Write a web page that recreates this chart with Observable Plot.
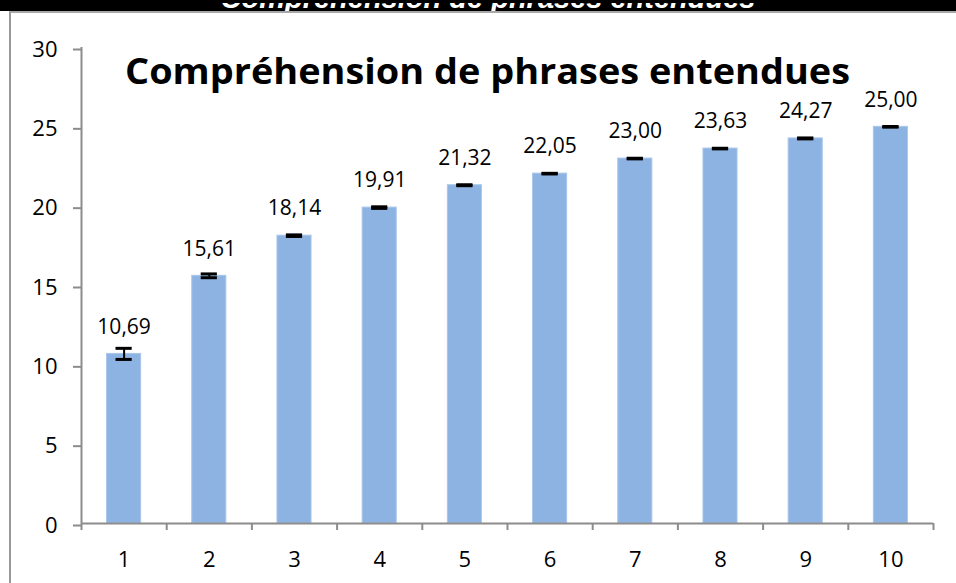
<!DOCTYPE html>
<html>
<head>
<meta charset="utf-8">
<script src="https://cdn.jsdelivr.net/npm/d3@7"></script>
<script src="https://cdn.jsdelivr.net/npm/@observablehq/plot@0.6"></script>
<style>
  html, body { margin: 0; padding: 0; background: #fff; }
  #wrap { position: relative; width: 956px; height: 583px; overflow: hidden; background: #fff; }
  #header { position: absolute; left: 0; top: 0; width: 956px; height: 11px; background: #000; overflow: hidden; }
  #frame { position: absolute; left: 9px; top: 11px; width: 1000px; height: 700px;
           border-left: 2px solid #999; border-top: 2px solid #a8a8a8; box-sizing: border-box; }
  #chart { position: absolute; left: 0; top: 0; }
</style>
</head>
<body>
<div id="wrap">
  <div id="header">
    <svg width="956" height="11">
      <text id="headtext" x="488" y="5" text-anchor="middle" fill="#fff"
        font-family="Liberation Sans, Arial, sans-serif" font-weight="bold" font-style="italic" font-size="29">Compréhension de phrases entendues</text>
    </svg>
  </div>
  <div id="frame"></div>
  <div id="chart"></div>
</div>
<script>
const title = "Compréhension de phrases entendues";
const categories = [1, 2, 3, 4, 5, 6, 7, 8, 9, 10];
const values = [10.69, 15.61, 18.14, 19.91, 21.32, 22.05, 23.00, 23.63, 24.27, 25.00];
const errors = [0.35, 0.12, 0.05, 0.05, 0.03, 0.02, 0.02, 0.02, 0.03, 0.02];
const labels = ["10,69", "15,61", "18,14", "19,91", "21,32", "22,05", "23,00", "23,63", "24,27", "25,00"];
const yTicks = [0, 5, 10, 15, 20, 25, 30];

const data = categories.map((k, i) => ({k, v: values[i], e: errors[i], label: labels[i]}));
const boundaries = [0.5].concat(categories.map(k => k + 0.5));

const halfBar = 0.2, halfCap = 0.095;
const axisColor = "#8c8c8c";
const font = "'Open Sans', sans-serif";

const plot = Plot.plot({
  width: 956,
  height: 583,
  marginLeft: 81,
  marginRight: 23,
  marginTop: 47,
  marginBottom: 60,
  style: {fontFamily: font, fontSize: "21px", color: "#000", background: "transparent"},
  x: {type: "linear", domain: [0.5, 10.5]},
  y: {domain: [0, 30]},
  marks: [
    Plot.rectY(data, {x1: d => d.k - halfBar, x2: d => d.k + halfBar, y1: 0, y2: "v", fill: "#8DB3E2", stroke: "#a9c6ea", strokeWidth: 1}),
    Plot.ruleX(data, {x: "k", y1: d => d.v - d.e, y2: d => d.v + d.e, stroke: "#000", strokeWidth: 2}),
    Plot.ruleY(data, {y: d => d.v + d.e, x1: d => d.k - halfCap, x2: d => d.k + halfCap, stroke: "#000", strokeWidth: 3}),
    Plot.ruleY(data, {y: d => d.v - d.e, x1: d => d.k - halfCap, x2: d => d.k + halfCap, stroke: "#000", strokeWidth: 3}),
    Plot.text(data, {x: "k", y: "v", text: "label", dy: -27, fontSize: 21, fill: "#000", lineAnchor: "middle"}),
    Plot.ruleX([0.5], {y1: 0, y2: 30, stroke: axisColor, strokeWidth: 2}),
    Plot.ruleY([0], {x1: 0.5, x2: 10.5, stroke: axisColor, strokeWidth: 2}),
    Plot.axisY({ticks: yTicks, tickSize: 8, tickPadding: 16, stroke: axisColor, strokeWidth: 2, fontSize: 22, dy: 2, label: null}),
    Plot.axisX({ticks: boundaries, tickSize: 7, tickFormat: () => "", stroke: axisColor, strokeWidth: 2, label: null}),
    Plot.axisX({ticks: categories, tickSize: 0, tickPadding: 28, fontSize: 22, label: null}),
    Plot.text([title], {frameAnchor: "top", text: d => d, dy: 36, dx: -20, fontSize: 36, fontWeight: "bold", fill: "#000", lineAnchor: "bottom"})
  ]
});
document.getElementById("chart").appendChild(plot);
// Fit title width to the reference's width
d3.select(plot).selectAll("text").filter(function () { return this.textContent === title; })
  .attr("textLength", 725).attr("lengthAdjust", "spacingAndGlyphs");
d3.select("#headtext").attr("textLength", 535).attr("lengthAdjust", "spacingAndGlyphs");
</script>
</body>
</html>
